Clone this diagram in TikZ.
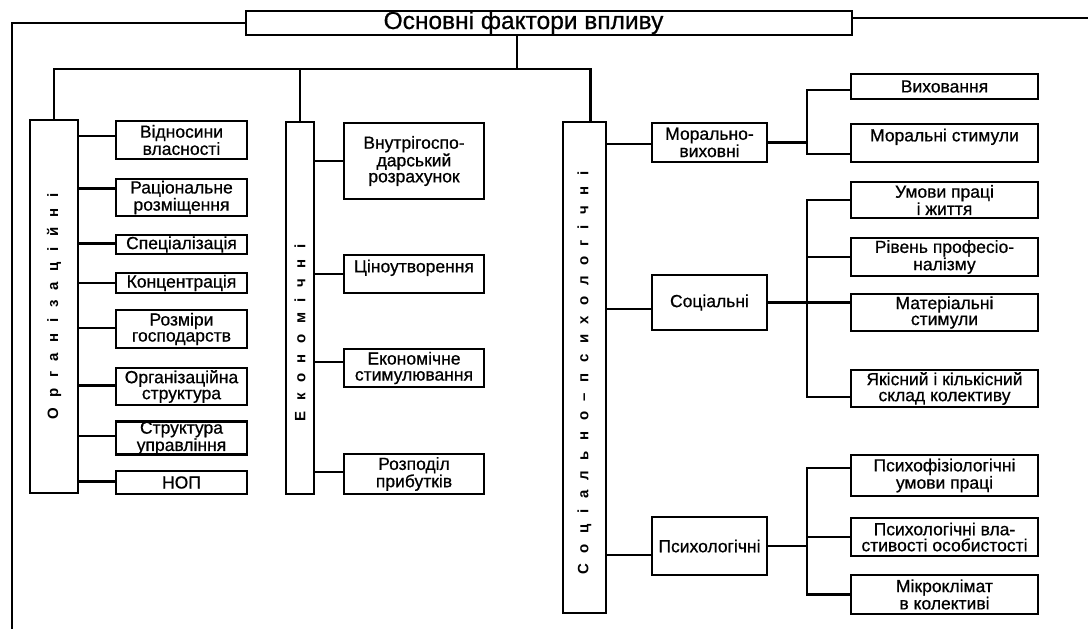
\documentclass[tikz,border=0pt]{standalone}
\usepackage{fontspec}
\setmainfont{Liberation Sans}
\newfontfamily\heavysans[FakeBold=0.7]{Liberation Sans}
\usetikzlibrary{calc}

\newcommand{\boxfont}{\heavysans\fontsize{17.5pt}{16pt}\selectfont}
\newcommand{\titlefont}{\heavysans\fontsize{24.5pt}{24pt}\selectfont}
\newcommand{\vertfont}{\fontsize{15pt}{15pt}\selectfont\bfseries}
% letters of the vertical labels, spread out
\makeatletter
\newcommand{\spaced}[1]{\@tfor\ch:=#1\do{\ch\hspace{10.5pt}}\unskip}
\makeatother

\begin{document}
\begin{tikzpicture}[x=1pt,y=-1pt,
    box/.style={draw,line width=2.4pt,inner sep=0pt,align=center,font=\boxfont},
    link/.style={line width=2.4pt}]
\useasboundingbox (0,0) rectangle (1088,629);

\node[box,font=\titlefont,text height=16pt,text depth=4pt,minimum width=606,minimum height=24] (title) at (549,23) {Основні фактори впливу\hspace*{51pt}};

% three groups
\node[box,font=\vertfont,minimum width=48,minimum height=373] (org) at (54,306.5) {\rotatebox{90}{\spaced{Організаційні}}};
\node[box,font=\vertfont,minimum width=28,minimum height=372] (econ) at (300,308) {\rotatebox{90}{\spaced{Економічні}\hspace*{50pt}}};
\node[box,font=\vertfont,minimum width=43,minimum height=491] (soc) at (584.5,367.5) {\rotatebox{90}{\spaced{Соціально–психологічні}\hspace*{11pt}}};

% organisational
\node[box,minimum width=131,minimum height=38] (vidn) at (181.5,140) {Відносини\\власності};
\node[box,minimum width=131,minimum height=37] (rac) at (181.5,197.5) {Раціональне\\розміщення};
\node[box,minimum width=131,minimum height=19] (spec) at (181.5,244.5) {Спеціалізація};
\node[box,minimum width=131,minimum height=20] (konc) at (181.5,283) {Концентрація};
\node[box,minimum width=131,minimum height=38] (rozm) at (181.5,329) {Розміри\\господарств};
\node[box,minimum width=131,minimum height=37] (orgstr) at (181.5,386.5) {Організаційна\\структура};
\node[box,minimum width=131,minimum height=32] (uprav) at (181.5,438) {Структура\\управління};
\node[box,minimum width=131,minimum height=23] (nop) at (181.5,482.5) {НОП};

% economic
\node[box,minimum width=140,minimum height=76] (vnutr) at (414,161) {Внутрігоспо-\\дарський\\розрахунок};
\node[box,minimum width=140,minimum height=38] (cino) at (414,274) {Ціноутворення\\~};
\node[box,minimum width=140,minimum height=38] (stym) at (414,368) {Економічне\\стимулювання};
\node[box,minimum width=140,minimum height=40] (rozp) at (414,474) {Розподіл\\прибутків};

% social-psychological
\node[box,minimum width=115,minimum height=39] (moral) at (709.5,142.5) {Морально-\\виховні};
\node[box,minimum width=115,minimum height=55] (social) at (709.5,302.5) {Соціальні};
\node[box,minimum width=115,minimum height=58] (psych) at (709.5,546) {Психологічні};

\node[box,minimum width=187,minimum height=25] (vyh) at (944.5,86.5) {Виховання};
\node[box,minimum width=187,minimum height=38] (morst) at (944.5,143) {Моральні стимули\\~};
\node[box,minimum width=187,minimum height=36] (umovy) at (944.5,200) {Умови праці\\і життя};
\node[box,minimum width=187,minimum height=38] (riven) at (944.5,257) {Рівень професіо-\\налізму};
\node[box,minimum width=187,minimum height=37] (mater) at (944.5,312.5) {Матеріальні\\стимули};
\node[box,minimum width=187,minimum height=37] (yakis) at (944.5,388.5) {Якісний і кількісний\\склад колективу};
\node[box,minimum width=187,minimum height=41] (psfiz) at (944.5,475.5) {Психофізіологічні\\умови праці};
\node[box,minimum width=187,minimum height=38] (psvl) at (944.5,537) {Психологічні вла-\\стивості особистості};
\node[box,minimum width=187,minimum height=39] (mikro) at (944.5,594.5) {Мікроклімат\\в колективі};

% top lines
\coordinate (hub) at (517,69);
\coordinate (lend) at (12,629);
\coordinate (rend) at (1088,18);
\draw[link] (hub |- title.south) -- (hub);
\draw[link] (org.north) |- (hub) -| ($(soc.north)+(6,0)$);
\draw[link] (econ.north) -- (econ.north |- hub);
\draw[link] (title.west) -| (lend);
\draw[link] ($(title.east)+(0,-5)$) -- (rend);

% group links
\foreach \c/\s in {vidn/4,rac/9,spec/1,konc/0,rozm/1,orgstr/1,uprav/2,nop/1}
  \draw[link] ($(\c.west)+(0,-\s)$) -- ($(\c.west -| org.east)+(0,-\s)$);
\foreach \c/\s in {vnutr/0,cino/0,stym/6,rozp/2}
  \draw[link] ($(\c.west)+(0,-\s)$) -- ($(\c.west -| econ.east)+(0,-\s)$);
\foreach \c/\s in {moral/-1.5,social/-6.5,psych/-9}
  \draw[link] ($(\c.west)+(0,-\s)$) -- ($(\c.west -| soc.east)+(0,-\s)$);

% brackets on the right
\coordinate (mb) at ($(moral.east)+(39,0)$);
\draw[link] (moral.east) -- (mb);
\draw[link] ($(vyh.west)+(0,3.5)$) -| (mb) |- ($(morst.west)+(0,11)$);

\coordinate (sb) at ($(social.east)+(39,0)$);
\draw[link] (social.east) -- (social.east -| mater.west);
\draw[link] (umovy.west) -| (sb) |- ($(yakis.west)+(0,8.5)$);
\draw[link] (riven.west) -- (riven.west -| sb);

\coordinate (pb) at ($(psych.east)+(39,0)$);
\draw[link] (psych.east) -- (pb);
\draw[link] ($(psfiz.west)+(0,-7.5)$) -| (pb) |- (mikro.west);
\draw[link] (psvl.west) -- (psvl.west -| pb);
\end{tikzpicture}
\end{document}
